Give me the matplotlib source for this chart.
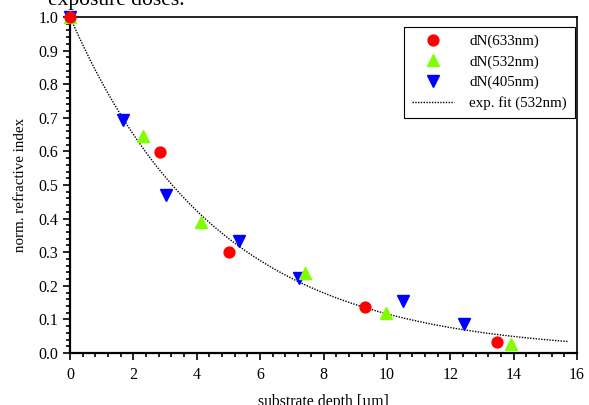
import numpy as np
import matplotlib
matplotlib.use("Agg")
import matplotlib.pyplot as plt
from matplotlib.ticker import MultipleLocator

plt.rcParams['font.family'] = ['Liberation Serif', 'DejaVu Serif']

# measured index change vs depth, three wavelengths
depth_633 = [0.0, 2.84, 5.03, 9.31, 13.48]
dn_633 = [1.0, 0.597, 0.300, 0.138, 0.034]

depth_532 = [0.0, 2.30, 4.12, 7.41, 9.97, 13.91]
dn_532 = [1.0, 0.646, 0.390, 0.239, 0.118, 0.027]

depth_405 = [0.0, 1.68, 3.03, 5.34, 7.22, 10.52, 12.44]
dn_405 = [1.0, 0.693, 0.470, 0.333, 0.224, 0.156, 0.086]

# exponential fit to the 532 nm data: exp(-z / fit_decay)
fit_decay = 4.65
fit_end = 15.7

fig = plt.figure(figsize=(5.89, 4.05), dpi=100)
ax = fig.add_axes([70/589, 1 - 353/405, 507/589, 336/405])

z = np.linspace(0, fit_end, 300)
ax.plot(z, np.exp(-z / fit_decay), color='black', linestyle=(0, (1, 1)),
        linewidth=1.0, label='exp. fit (532nm)', zorder=2)

ax.plot(depth_405, dn_405, linestyle='none', marker='v', markersize=8,
        color='#0000ff', label='dN(405nm)', zorder=3, clip_on=False)
ax.plot(depth_532, dn_532, linestyle='none', marker='^', markersize=8,
        color='#80ff00', label='dN(532nm)', zorder=4, clip_on=False)
ax.plot(depth_633, dn_633, linestyle='none', marker='o', markersize=7.8,
        color='#ff0000', label='dN(633nm)', zorder=5, clip_on=False)

ax.set_xlim(0, 16)
ax.set_ylim(0, 1.0)
ax.xaxis.set_major_locator(MultipleLocator(2))
ax.xaxis.set_minor_locator(MultipleLocator(0.4))
ax.yaxis.set_major_locator(MultipleLocator(0.1))
ax.yaxis.set_minor_locator(MultipleLocator(0.02))
ax.tick_params(which='both', direction='out', top=False, right=False,
               labelsize=11.5, width=1.2)
ax.tick_params(which='major', length=5)
ax.tick_params(which='minor', length=3)
ax.tick_params(axis='x', pad=5)

for side in ['left', 'bottom']:
    ax.spines[side].set_linewidth(1.6)
for side in ['top', 'right']:
    ax.spines[side].set_linewidth(1.2)

ax.set_xlabel('substrate depth [µm]', fontsize=11.3, labelpad=8)
ax.set_ylabel('norm. refractive index', fontsize=10.8, labelpad=8)

handles, labels = ax.get_legend_handles_labels()
order = [3, 2, 1, 0]
leg = ax.legend([handles[i] for i in order], [labels[i] for i in order],
                loc='upper right', bbox_to_anchor=(1.011, 0.994),
                fontsize=10.8, fancybox=False, framealpha=1,
                edgecolor='black', handlelength=2.8, handletextpad=1.0,
                borderpad=0.55, labelspacing=0.45)
leg.get_frame().set_linewidth(0.8)

fig.text(48/589, 1 - 5/405, 'exposure doses.', fontsize=15.5,
         va='baseline', ha='left')

fig.savefig('out.png', dpi=100)
